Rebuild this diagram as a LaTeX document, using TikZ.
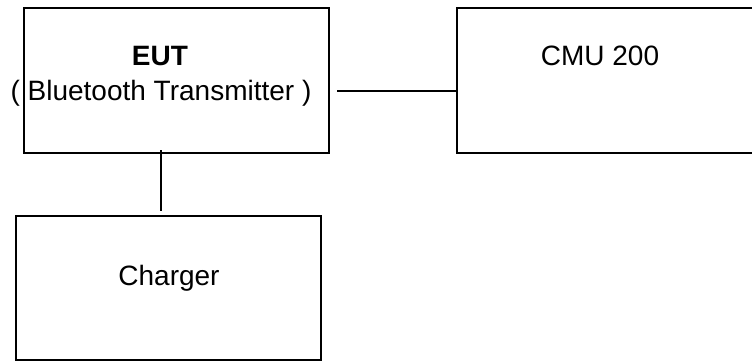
\documentclass[tikz,border=0pt]{standalone}
\usepackage{fontspec}
\setmainfont{Liberation Sans}
\usepackage{tikz}
\usetikzlibrary{calc}
\pgfkeys{tikz/setupenv/.style={x=0.5pt,y=-0.5pt,line width=1pt}}
\pgfkeys{tikz/unitbox/.style={draw,rectangle,inner sep=0pt,line width=1pt}}
\pgfkeys{tikz/unitlabel/.style={anchor=base,inner sep=0pt,font=\fontsize{14}{17}\selectfont}}
\begin{document}
\begin{tikzpicture}[setupenv]
    \useasboundingbox (0,0) rectangle (752,361);
    \node[unitbox,minimum width=152.5pt,minimum height=72.5pt] (eut) at (176.5,80.5) {};
    \node[unitbox,minimum width=148pt,minimum height=72.5pt] (cmu) at (605,80.5) {};
    \node[unitbox,minimum width=152.5pt,minimum height=72pt] (charger) at (168.5,288) {};
    \node[unitlabel,font=\fontsize{14}{17}\selectfont\bfseries] (eutname) at (160,65) {EUT};
    \node[unitlabel] (euttype) at (161,100) {( Bluetooth Transmitter )};
    \node[unitlabel] (cmuname) at (600,65) {CMU 200};
    \node[unitlabel] (chargername) at (169,285) {Charger};
    \draw[shorten <=3.5pt] (eut.east |- 0,91) -- (cmu.west |- 0,91);
    \draw[shorten <=-2pt,shorten >=2pt] (eut.south -| 161,0) -- (charger.north -| 161,0);
\end{tikzpicture}
\end{document}
